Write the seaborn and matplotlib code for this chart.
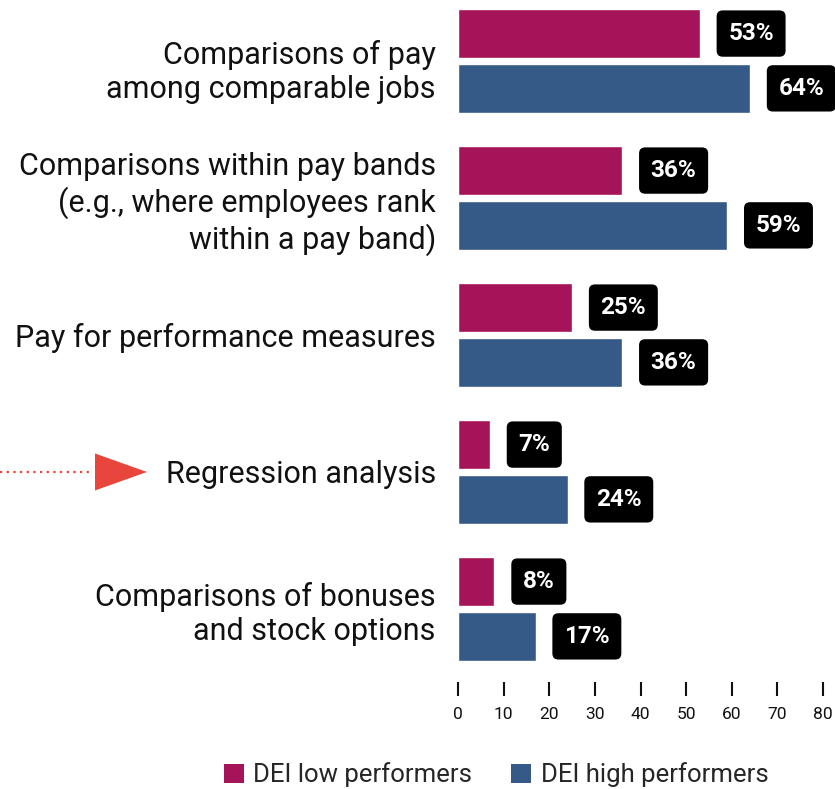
import numpy as np
import pandas as pd
import matplotlib
matplotlib.use("Agg")
import matplotlib.pyplot as plt
import matplotlib.transforms as mtransforms
from matplotlib.patches import Patch, Polygon
from matplotlib.lines import Line2D
import seaborn as sns

# data
categories = [
    "Comparisons of pay\namong comparable jobs",
    "Comparisons within pay bands\n(e.g., where employees rank\nwithin a pay band)",
    "Pay for performance measures",
    "Regression analysis",
    "Comparisons of bonuses\nand stock options",
]
groups = ["DEI low performers", "DEI high performers"]
low_vals = [53, 36, 25, 7, 8]
high_vals = [64, 59, 36, 24, 17]
xticks = [0, 10, 20, 30, 40, 50, 60, 70, 80]
colors = {"DEI low performers": "#A51458", "DEI high performers": "#365A87"}
arrow_color = "#E8453C"

df = pd.DataFrame({
    "category": categories * 2,
    "group": [groups[0]] * len(categories) + [groups[1]] * len(categories),
    "value": low_vals + high_vals,
})

sns.set_style("white")
plt.rcParams["font.family"] = ["Roboto", "DejaVu Sans"]

W, H = 835, 789
fig = plt.figure(figsize=(W / 100, H / 100), dpi=100)
ax = fig.add_axes([458 / W, (H - 682) / H, (823 - 458) / W, 682 / H])

sns.barplot(data=df, y="category", x="value", hue="group", orient="h",
            palette=colors, width=0.8, gap=0.11, legend=False, ax=ax,
            saturation=1, order=categories, hue_order=groups)

ax.set_xlim(0, 80)
ax.set_ylim(4.533, -0.445)
for s in ax.spines.values():
    s.set_visible(False)
ax.set_xlabel("")
ax.set_ylabel("")
ax.set_xticks(xticks)
ax.set_xticklabels([str(t) for t in xticks], fontsize=12.5, color="#111111")
ax.tick_params(axis="x", length=10, width=1.5, color="#111111", pad=8,
               direction="out", bottom=True)
ax.tick_params(axis="y", length=0, pad=16)
ax.set_yticks(range(len(categories)))
ax.set_yticklabels(categories, fontsize=22, color="#111111")
ax.grid(False)

# first label sits a little lower in the original
lab0 = ax.get_yticklabels()[0]
lab0.set_transform(lab0.get_transform() +
                   mtransforms.ScaledTranslation(0, -6 / 100, fig.dpi_scale_trans))

# value labels in black rounded boxes
for container in ax.containers:
    for bar in container:
        w = bar.get_width()
        yc = bar.get_y() + bar.get_height() / 2
        ax.annotate(f"{w:.0f}%", xy=(w, yc), xytext=(20.5, 0),
                    textcoords="offset points", ha="left", va="center",
                    fontsize=17.5, fontweight="bold", color="white",
                    annotation_clip=False,
                    bbox=dict(boxstyle="round,pad=0.48,rounding_size=0.25",
                              fc="black", ec="black", lw=0))

# red dotted pointer at "Regression analysis"
tr = mtransforms.blended_transform_factory(fig.transFigure, ax.transData)
yr = categories.index("Regression analysis")
fig.add_artist(Line2D([0, 92 / W], [yr, yr], transform=tr, color=arrow_color,
                      lw=1.6, linestyle=(0, (1, 2))))
fig.add_artist(Polygon([[95 / W, yr - 0.135], [95 / W, yr + 0.135], [147 / W, yr]],
                       closed=True, transform=tr, fc=arrow_color, ec="none"))

handles = [Patch(facecolor=colors[g], edgecolor="none", label=g) for g in groups]
fig.legend(handles=handles, loc="center", bbox_to_anchor=(496 / W, 1 - 775 / H),
           ncol=2, frameon=False, fontsize=18.5, handlelength=0.8,
           handleheight=0.8, handletextpad=0.36, columnspacing=1.5,
           borderpad=0)

fig.savefig("out.png", dpi=100)
